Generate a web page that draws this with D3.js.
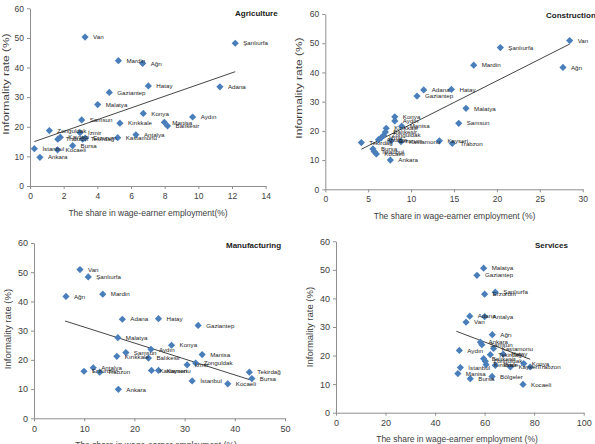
<!DOCTYPE html>
<html><head><meta charset="utf-8">
<script src="https://cdn.jsdelivr.net/npm/d3@7"></script>
<style>
html,body{margin:0;padding:0;background:#fff;}
svg{display:block;font-family:"Liberation Sans",Arial,sans-serif;}
</style></head>
<body><svg id="c" width="595" height="444"></svg>
<script>
// ---------- DATA ----------
const yTicks = [0, 10, 20, 30, 40, 50, 60];

const agriTicks = [0, 2, 4, 6, 8, 10, 12, 14];
const agriNames = ["Van","Şanlıurfa","Mardin","Ağrı","Hatay","Adana","Gaziantep","Malatya","Konya","Aydın","Samsun","Manisa","Balıkesir","Kırıkkale","Zonguldak","İzmir","Trabzon","Kayseri","Tekirdağ","Erzurum","Kastamonu","Antalya","Bursa","Kocaeli","İstanbul","Ankara"];
const agriShare = [3.27,12.19,5.25,6.69,7.03,11.28,4.71,4.02,6.73,9.66,3.07,7.98,8.17,5.34,1.15,2.97,1.65,1.8,3.13,3.28,5.21,6.29,2.53,1.64,0.26,0.59];
const agriInformality = [50.3,48.2,42.3,41.4,33.8,33.5,31.6,27.5,24.5,23.3,22.3,21.5,20.3,21.2,18.7,18.0,15.8,16.5,15.8,16.2,16.3,17.3,13.6,12.2,12.6,9.7];
const agriTrendX = [0.26, 12.19];
const agriTrendY = [15.0, 38.6];

const consTicks = [0, 5, 10, 15, 20, 25, 30];
const consNames = ["Van","Ağrı","Şanlıurfa","Mardin","Hatay","Adana","Gaziantep","Malatya","Samsun","Kayseri","Trabzon","Konya","Aydın","Manisa","Kırıkkale","Balıkesir","Zonguldak","İzmir","Tekirdağ","Antalya","Kastamonu","Erzurum","Bursa","İstanbul","Kocaeli","Ankara"];
const consShare = [28.48,27.7,20.4,17.3,14.7,11.47,10.69,16.4,15.55,13.3,14.8,8.1,8.1,8.9,7.1,7.0,6.8,6.5,4.2,6.2,8.82,7.66,5.55,5.7,5.95,7.58];
const consInformality = [50.9,41.7,48.5,42.5,34.2,34.0,31.9,27.7,22.6,16.6,15.7,24.8,23.4,21.6,20.9,19.6,18.5,17.6,16.0,17.0,16.3,16.6,13.8,12.9,12.1,10.0];
const consTrendX = [4.2, 28.48];
const consTrendY = [13.7, 49.7];

const manuTicks = [0, 10, 20, 30, 40, 50];
const manuNames = ["Van","Şanlıurfa","Ağrı","Mardin","Adana","Hatay","Gaziantep","Malatya","Konya","Aydın","Samsun","Kırıkkale","Balıkesir","Manisa","Zonguldak","İzmir","Antalya","Trabzon","Erzurum","Kastamonu","Kayseri","İstanbul","Kocaeli","Ankara","Tekirdağ","Bursa"];
const manuShare = [9.16,10.8,6.37,13.7,17.6,24.8,32.7,16.7,27.4,23.3,18.3,16.5,22.8,33.5,32.2,30.5,11.8,13.1,9.96,23.4,24.8,31.5,38.6,16.8,42.9,43.4];
const manuInformality = [50.9,48.4,41.7,42.5,33.9,34.1,31.8,27.6,25.0,23.6,22.5,21.2,20.6,21.8,18.9,18.3,17.3,15.8,16.1,16.4,16.4,12.8,11.8,9.9,15.8,13.6];
const manuTrendX = [6.2, 43.0];
const manuTrendY = [33.3, 13.2];

const servTicks = [0, 20, 40, 60, 80, 100];
const servNames = ["Malatya","Gaziantep","Şanlıurfa","Erzurum","Adana","Antalya","Van","Ağrı","Ankara","Samsun","Aydın","Kastamonu","Tekirdağ","Hatay","Balıkesir","Zonguldak","Kırıkkale","İzmir","Kayseri","Konya","Trabzon","İstanbul","Manisa","Bursa","Bölgeler","Kocaeli"];
const servShare = [59.6,56.9,64.3,60.0,54.0,60.0,52.5,63.1,58.3,58.9,49.8,63.6,62.3,67.5,59.6,60.3,60.6,64.3,70.4,75.8,78.4,50.2,49.2,54.2,63.0,75.5];
const servInformality = [50.6,48.1,42.2,41.5,33.8,33.6,31.7,27.3,24.7,23.8,21.8,22.5,20.3,20.5,18.9,18.0,16.8,16.6,16.0,17.2,16.0,15.8,13.7,11.9,12.7,9.9];
const servTrendX = [48.6, 78.4];
const servTrendY = [28.5, 18.7];

// ---------- DRAW ----------
const svg = d3.select("#c");
svg.append("rect").attr("width",595).attr("height",444).attr("fill","#fff");

function panel(o) {
  const x = d3.scaleLinear().domain([0, o.ticks[o.ticks.length-1]]).range([o.l, o.r]);
  const y = d3.scaleLinear().domain([0, 60]).range([o.b, o.t]);
  const g = svg.append("g");

  const xa = g.append("g").attr("transform", `translate(0,${o.b})`)
    .call(d3.axisBottom(x).tickValues(o.ticks).tickSize(3).tickPadding(4).tickSizeOuter(0));
  const ya = g.append("g").attr("transform", `translate(${o.l},0)`)
    .call(d3.axisLeft(y).tickValues(yTicks).tickSize(3).tickPadding(3).tickSizeOuter(0));
  [xa, ya].forEach(a => {
    a.selectAll("path,line").attr("stroke", "#8f8f8f").attr("stroke-width", 1);
    a.selectAll("text").attr("fill", "#404040").attr("font-size", o.tf + "px")
      .attr("font-family", "'Liberation Sans',Arial,sans-serif");
  });

  // trendline
  const line = d3.line().x(d => x(d[0])).y(d => y(d[1]));
  g.append("path").datum(d3.zip(o.tx, o.ty)).attr("d", line)
    .attr("fill", "none").attr("stroke", "#303030").attr("stroke-width", 0.9);

  const pts = d3.zip(o.names, o.xs, o.ys);
  const sym = d3.symbol().type(d3.symbolSquare).size(26);
  g.selectAll("path.pt").data(pts).join("path").attr("class", "pt")
    .attr("d", sym)
    .attr("transform", d => `translate(${x(d[1])},${y(d[2])}) rotate(45)`)
    .attr("fill", "#4a7ebb");
  g.selectAll("text.lb").data(pts).join("text").attr("class", "lb")
    .attr("x", d => x(d[1]) + 8).attr("y", d => y(d[2]) + 2.2)
    .attr("font-size", "6.2px").attr("fill", "#1e1e1e").text(d => d[0]);

  g.append("text").attr("x", o.titleX).attr("y", o.titleY)
    .attr("font-size", "8px").attr("font-weight", "bold").attr("fill", "#1a1a1a").text(o.title);

  g.append("text").attr("x", o.xlX).attr("y", o.xlY).attr("text-anchor", "middle")
    .attr("font-size", "8.5px").attr("fill", "#404040").text(o.xlabel);
  g.append("text").attr("transform", `translate(${o.ylX},${o.ylY}) scale(${o.ys2},1) rotate(-90)`).attr("text-anchor", "middle")
    .attr("font-size", o.yf + "px").attr("fill", "#404040").text("Informality rate (%)");
}

panel({ticks: agriTicks, names: agriNames, xs: agriShare, ys: agriInformality, tx: agriTrendX, ty: agriTrendY,
  l: 30, r: 265.7, t: 8.3, b: 186, tf: 8.5, yf: 12, ys2: 0.78,
  title: "Agriculture", titleX: 235, titleY: 16,
  xlabel: "The share in wage-earner employment(%)", xlX: 148, xlY: 215.5, ylX: 8.5, ylY: 84});

panel({ticks: consTicks, names: consNames, xs: consShare, ys: consInformality, tx: consTrendX, ty: consTrendY,
  l: 325.3, r: 582.7, t: 14, b: 189.3, tf: 8.5, yf: 12, ys2: 0.78,
  title: "Construction", titleX: 546, titleY: 17.5,
  xlabel: "The share in wage-earner employment (%)", xlX: 454.5, xlY: 219, ylX: 302, ylY: 88});

panel({ticks: manuTicks, names: manuNames, xs: manuShare, ys: manuInformality, tx: manuTrendX, ty: manuTrendY,
  l: 34, r: 285, t: 243, b: 418.3, tf: 9, yf: 9.5, ys2: 1,
  title: "Manufacturing", titleX: 226, titleY: 247.5,
  xlabel: "The share in wage-earner employment (%)", xlX: 156, xlY: 448, ylX: 11, ylY: 329});

panel({ticks: servTicks, names: servNames, xs: servShare, ys: servInformality, tx: servTrendX, ty: servTrendY,
  l: 336, r: 583.7, t: 241.3, b: 412.7, tf: 9, yf: 9.5, ys2: 1,
  title: "Services", titleX: 535, titleY: 247.5,
  xlabel: "The share in wage-earner employment (%)", xlX: 457, xlY: 442, ylX: 313, ylY: 327});
</script></body></html>
